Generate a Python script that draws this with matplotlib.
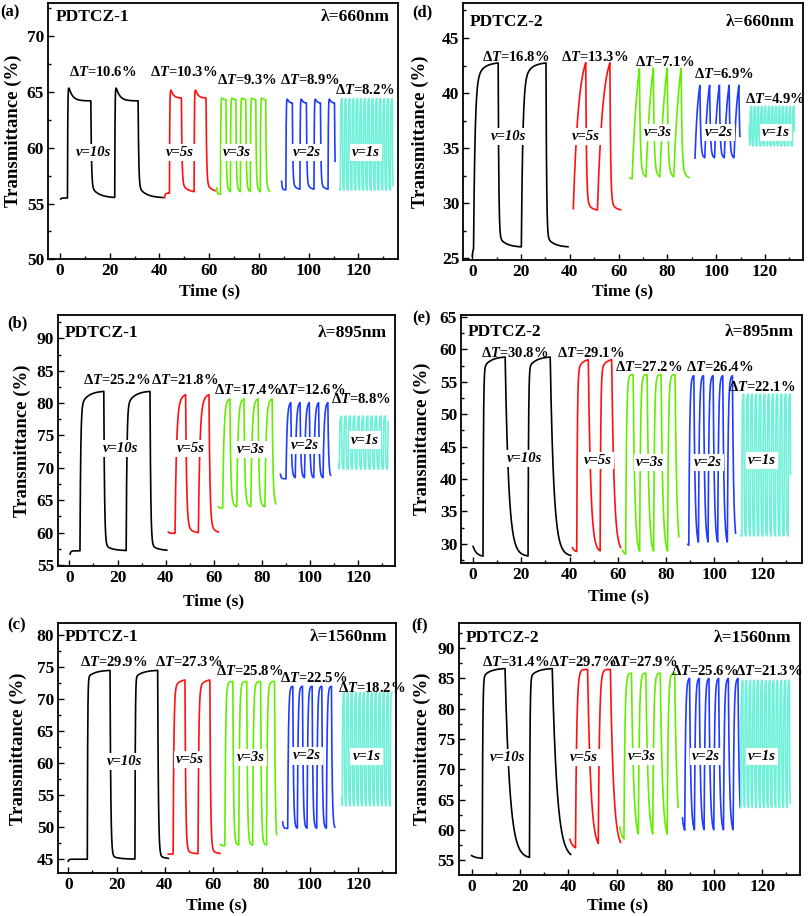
import numpy as np
import matplotlib
matplotlib.use("Agg")
import matplotlib.pyplot as plt
from matplotlib.ticker import MultipleLocator

plt.rcParams.update({
    "font.family": ["Liberation Serif", "DejaVu Serif"],
    "font.weight": "bold",
    "axes.labelweight": "bold",
    "mathtext.fontset": "custom",
    "mathtext.rm": "Liberation Serif:bold",
    "mathtext.it": "Liberation Serif:italic:bold",
    "mathtext.bf": "Liberation Serif:bold",
})

# ---------------- data ----------------
speeds = ["10s", "5s", "3s", "2s", "1s"]
colors = ["#000000", "#ff1010", "#62ee00", "#1f3cff", "#6ff0d8"]

# panel (a) PDTCZ-1, 660 nm
a_span = [(0.3, 41.3), (42.0, 62.3), (63.0, 84.3), (89.1, 110.6), (112.4, 133.9)]
a_start = [55.4, 55.5, 56.4, 57.0, 56.3]
a_low = [55.5, 55.95, 55.8, 56.2, 56.2]
a_high = [64.2, 64.45, 64.3, 64.0, 64.4]
a_switch = [(3.0, 19.0, 9.4, 2), (44.0, 9.9, 4.8, 2), (64.5, 4.0, 2.2, 5), (90.8, 5.65, 2.6, 4), (112.7, 1.55, 0.75, 14)]
a_tau = [(0.12, 0.25, 1, 0.88, 3), (0.12, 0.25, 1, 0.9, 2.5), (0.12, 0.2, 1, 0.9, 1.5), (0.12, 0.2, 1, 0.92, 1.5), (0.08, 0.1, 1, 1, 1)]
a_ovs = [(1.8, 1.5), (1.4, 1.0), (0.7, 0.5), (1.1, 0.6), (0.0, 1.0)]
a_dT = ["10.6", "10.3", "9.3", "8.9", "8.2"]

# panel (b) PDTCZ-1, 895 nm
b_span = [(0.3, 40.5), (41.1, 61.9), (61.9, 85.8), (87.7, 108.5), (111.8, 132.5)]
b_start = [56.7, 60.1, 64.0, 69.0, 70.6]
b_low = [57.2, 59.9, 63.8, 68.3, 69.8]
b_high = [81.9, 81.6, 80.8, 80.2, 78.0]
b_switch = [(4.4, 19.2, 9.9, 2), (43.9, 9.7, 4.4, 2), (63.7, 5.85, 3.0, 4), (90.0, 3.85, 2.0, 5), (112.2, 1.82, 0.9, 12)]
b_tau = [(0.3, 0.3, 0.9, 0.96, 3), (0.6, 0.4, 0.88, 0.93, 2), (0.5, 0.35, 0.95, 0.92, 1.5), (0.45, 0.3, 1, 0.95, 1.5), (0.12, 0.12, 1, 1, 1)]
b_dT = ["25.2", "21.8", "17.4", "12.6", "8.8"]

# panel (c) PDTCZ-1, 1560 nm
c_span = [(0.0, 41.4), (41.4, 62.8), (63.0, 86.2), (88.7, 110.3), (113.1, 134.0)]
c_start = [44.7, 45.8, 47.3, 50.8, 54.5]
c_low = [45.0, 45.8, 47.1, 49.8, 53.3]
c_high = [74.5, 73.1, 72.8, 72.0, 71.0]
c_switch = [(7.9, 19.7, 9.4, 2), (43.4, 10.3, 4.9, 2), (64.8, 5.75, 3.3, 4), (90.8, 4.0, 2.1, 5), (113.4, 1.65, 0.8, 13)]
c_tau = [(0.15, 0.3, 0.96, 0.98, 3), (0.3, 0.3, 0.94, 0.97, 2), (0.3, 0.3, 0.98, 0.98, 1.5), (0.3, 0.3, 1, 1, 1), (0.1, 0.12, 1, 1, 1)]
c_dT = ["29.9", "27.3", "25.8", "22.5", "18.2"]

# panel (d) PDTCZ-2, 660 nm
d_span = [(0.0, 39.2), (41.4, 60.8), (64.6, 88.8), (91.3, 109.7), (113.5, 132.0)]
d_start = [25.2, 29.5, 32.3, 34.1, 37.0]
d_low = [26.0, 29.3, 32.2, 34.0, 35.2]
d_high = [42.8, 44.2, 46.5, 42.5, 38.8]
d_switch = [(0.5, 19.6, 10.1, 2), (41.4, 9.9, 5.1, 2), (65.5, 5.7, 3.0, 4), (91.3, 4.0, 2.0, 5), (113.8, 1.45, 0.7, 13)]
d_tau = [(0.6, 0.25, 0.88, 0.94, 3), (2.2, 0.3, 1, 0.93, 2), (2.5, 0.35, 1, 0.88, 1.5), (1.3, 0.3, 1, 0.9, 1.2), (0.1, 0.1, 1, 1, 1)]
d_dT = ["16.8", "13.3", "7.1", "6.9", "4.9"]

# panel (e) PDTCZ-2, 895 nm
e_span = [(0.0, 40.5), (41.2, 61.2), (62.0, 85.4), (89.1, 108.9), (111.0, 131.7)]
e_start = [29.6, 29.4, 29.0, 29.9, 31.3]
e_low = [28.0, 28.7, 28.3, 29.7, 31.2]
e_high = [58.9, 58.6, 56.1, 56.0, 53.1]
e_switch = [(4.1, 18.7, 9.2, 2), (43.0, 9.7, 4.8, 2), (63.3, 5.8, 3.1, 4), (89.5, 4.0, 2.1, 5), (111.5, 1.75, 0.85, 12)]
e_tau = [(0.2, 1.4, 0.94, 0.92, 3), (0.25, 1.0, 0.93, 1, 2), (0.35, 0.7, 1, 1, 1), (0.35, 0.5, 1, 1, 1), (0.1, 0.12, 1, 1, 1)]
e_dT = ["30.8", "29.1", "27.2", "26.4", "22.1"]

# panel (f) PDTCZ-2, 1560 nm
f_span = [(0.0, 40.9), (40.6, 61.5), (61.2, 85.3), (87.1, 110.9), (110.9, 131.6)]
f_start = [55.8, 58.5, 60.5, 62.0, 63.7]
f_low = [55.3, 56.8, 58.2, 59.6, 63.7]
f_high = [86.7, 86.5, 85.9, 85.1, 84.7]
f_switch = [(4.4, 19.5, 9.4, 2), (42.9, 9.4, 5.0, 2), (62.9, 5.95, 3.1, 4), (88.0, 4.0, 2.0, 6), (111.2, 1.6, 0.8, 13)]
f_tau = [(0.2, 2.0, 0.95, 1, 3), (0.5, 1.3, 1, 1, 1), (0.4, 0.9, 1, 1, 1), (0.35, 0.5, 1, 1, 1), (0.1, 0.12, 1, 1, 1)]
f_dT = ["31.4", "29.7", "27.9", "25.6", "21.3"]

no_ovs = [(0.0, 1.0)] * 5

# ---------------- layout (pixels in 808x916 figure) ----------------
W, H = 808, 916
panels = [
    dict(letter="(a)", name="PDTCZ-1", lam="660nm", span=a_span, start=a_start, low=a_low, high=a_high,
         sw=a_switch, tau=a_tau, ovs=a_ovs, dT=a_dT,
         box=(48.3, 2.7, 398.3, 259.3), xlim=(-4.7, 136.0), ylim=(50, 73), yt=(50, 70),
         dTpos=[(17, 66.8), (49.6, 66.8), (75, 66.06), (100.3, 66.1), (122.7, 65.2)],
         vpos=[(13.4, 59.6), (48.3, 59.6), (71.3, 59.6), (99.2, 59.6), (122.9, 59.6)],
         lpos=(0, 12), hy=0.945, ylc=-0.10, xlc=(0.46, -0.126)),
    dict(letter="(b)", name="PDTCZ-1", lam="895nm", span=b_span, start=b_start, low=b_low, high=b_high,
         sw=b_switch, tau=b_tau, ovs=no_ovs, dT=b_dT,
         box=(58.3, 315, 395, 565.7), xlim=(-4.6, 135.3), ylim=(54.9, 93.6), yt=(55, 90),
         dTpos=[(19.8, 83.6), (47.9, 83.6), (74, 82.0), (100.5, 82.0), (121, 80.7)],
         vpos=[(21.3, 73.0), (50.4, 73.0), (75.3, 72.8), (97.9, 73.4), (122.8, 74.3)],
         lpos=(7, 323), hy=0.927, ylc=-0.108, xlc=(0.46, -0.144)),
    dict(letter="(c)", name="PDTCZ-1", lam="1560nm", span=c_span, start=c_start, low=c_low, high=c_high,
         sw=c_switch, tau=c_tau, ovs=no_ovs, dT=c_dT,
         box=(58.3, 623.3, 396, 873.3), xlim=(-4.1, 135.6), ylim=(42.8, 81.8), yt=(45, 80),
         dTpos=[(18.8, 75.8), (49.9, 75.8), (74.9, 74.3), (101.5, 73.2), (125.5, 71.7)],
         vpos=[(23.4, 60.2), (50.3, 60.5), (75.4, 60.8), (98.9, 61.1), (123.4, 61.0)],
         lpos=(7, 625), hy=0.946, ylc=-0.119, xlc=(0.47, -0.127)),
    dict(letter="(d)", name="PDTCZ-2", lam="660nm", span=d_span, start=d_start, low=d_low, high=d_high,
         sw=d_switch, tau=d_tau, ovs=no_ovs, dT=d_dT,
         box=(463.3, 2.7, 803.3, 260), xlim=(-3.7, 135.7), ylim=(24.85, 48.2), yt=(25, 45),
         dTpos=[(17.6, 43.3), (50.2, 43.3), (78.9, 42.8), (103.2, 41.75), (124, 39.5)],
         vpos=[(15, 36.05), (46.5, 36.05), (76.1, 36.4), (101.1, 36.4), (124.4, 36.4)],
         lpos=(412, 12), hy=0.926, ylc=-0.125, xlc=(0.468, -0.123)),
    dict(letter="(e)", name="PDTCZ-2", lam="895nm", span=e_span, start=e_start, low=e_low, high=e_high,
         sw=e_switch, tau=e_tau, ovs=no_ovs, dT=e_dT,
         box=(461.3, 315, 802.3, 563.3), xlim=(-4.9, 136.6), ylim=(27.0, 65.3), yt=(30, 65),
         dTpos=[(17.3, 59.4), (48.9, 59.4), (72.9, 57.3), (102.2, 57.3), (119.9, 54.2)],
         vpos=[(21.2, 43.1), (51.6, 42.9), (73.4, 42.6), (97.6, 42.5), (120, 42.9)],
         lpos=(412, 318), hy=0.933, ylc=-0.115, xlc=(0.46, -0.134)),
    dict(letter="(f)", name="PDTCZ-2", lam="1560nm", span=f_span, start=f_start, low=f_low, high=f_high,
         sw=f_switch, tau=f_tau, ovs=no_ovs, dT=f_dT,
         box=(459, 623.3, 800, 875), xlim=(-5.2, 135.6), ylim=(52.6, 94.1), yt=(55, 90),
         dTpos=[(18.2, 87.8), (46, 87.8), (71.1, 87.8), (96.2, 86.2), (122.7, 86.2)],
         vpos=[(14.7, 71.9), (46.4, 71.9), (70.5, 72.1), (96.6, 72.1), (120, 72.1)],
         lpos=(411, 625), hy=0.94, ylc=-0.108, xlc=(0.464, -0.12)),
]


def response(L0, target, dt, tau, frac, tau_s):
    return target + (L0 - target) * (frac * np.exp(-dt / tau) + (1 - frac) * np.exp(-dt / tau_s))


def waveform(span, start, low, high, sw, tau, ovs, step=0.01):
    t0, t1 = span
    first, period, dur, n = sw
    tau_on, tau_off, f_on, f_off, tau_s = tau
    o_amp, o_tau = ovs
    ons = first + period * np.arange(n)
    events = [(t0, False)] + sorted([(x, True) for x in ons] + [(x + dur, False) for x in ons])
    t = np.arange(t0, t1 + step / 2, step)
    T = np.empty_like(t)
    level = start
    for i, (te, state) in enumerate(events):
        tn = events[i + 1][0] if i + 1 < len(events) else t1 + 1
        def val(dt):
            if state:
                v = response(level, high, dt, tau_on, f_on, tau_s)
                v = v + o_amp * (1 - np.exp(-dt / tau_on)) * np.exp(-dt / o_tau)
            else:
                v = response(level, low, dt, tau_off, f_off, tau_s)
            return v
        m = (t >= te) & (t < tn)
        T[m] = val(t[m] - te)
        level = float(val(np.array(tn - te)))
    return t, T


fig = plt.figure(figsize=(W / 100, H / 100), dpi=100)

for p in panels:
    l, tp, r, b = p["box"]
    ax = fig.add_axes([l / W, 1 - b / H, (r - l) / W, (b - tp) / H])
    for k in range(5):
        t, T = waveform(p["span"][k], p["start"][k], p["low"][k], p["high"][k],
                        p["sw"][k], p["tau"][k], p["ovs"][k])
        ax.plot(t, T, color=colors[k], lw=1.2, zorder=2)
        ax.text(*p["dTpos"][k], "Δ$T$=" + p["dT"][k] + "%", ha="center", va="center",
                fontsize=10.5, fontweight="bold", zorder=4)
        ax.text(*p["vpos"][k], "v=" + speeds[k], ha="center", va="center",
                fontsize=10.5, fontweight="bold", fontstyle="italic", zorder=4,
                bbox=dict(facecolor="white", edgecolor="none", pad=1.5))
    ax.set_xlim(*p["xlim"])
    ax.set_ylim(*p["ylim"])
    ax.xaxis.set_major_locator(MultipleLocator(20))
    ax.xaxis.set_minor_locator(MultipleLocator(10))
    ax.set_yticks(np.arange(p["yt"][0], p["yt"][1] + 0.1, 5))
    ax.yaxis.set_minor_locator(MultipleLocator(2.5))
    ax.tick_params(which="both", direction="in", top=False, right=False, width=1.0)
    ax.tick_params(which="major", length=4, labelsize=12.5, pad=3)
    ax.tick_params(which="minor", length=2.5)
    for lab in ax.get_xticklabels() + ax.get_yticklabels():
        lab.set_fontweight("bold")
    for s in ax.spines.values():
        s.set_linewidth(1.3)
    ax.set_xlabel("Time (s)", fontsize=12.5, fontweight="bold", va="center")
    ax.set_ylabel("Transmittance (%)", fontsize=13.5, fontweight="bold", va="center")
    ax.yaxis.set_label_coords(p["ylc"], 0.5)
    ax.xaxis.set_label_coords(*p["xlc"])
    ax.text(0.02, p["hy"], p["name"], transform=ax.transAxes, ha="left", va="center",
            fontsize=12.5, fontweight="bold")
    ax.text(0.975, p["hy"], "λ=" + p["lam"], transform=ax.transAxes, ha="right", va="center",
            fontsize=12.5, fontweight="bold")
    fig.text(p["lpos"][0] / W, 1 - p["lpos"][1] / H, p["letter"], ha="left", va="center",
             fontsize=12, fontweight="bold")

fig.savefig("out.png", dpi=100)
